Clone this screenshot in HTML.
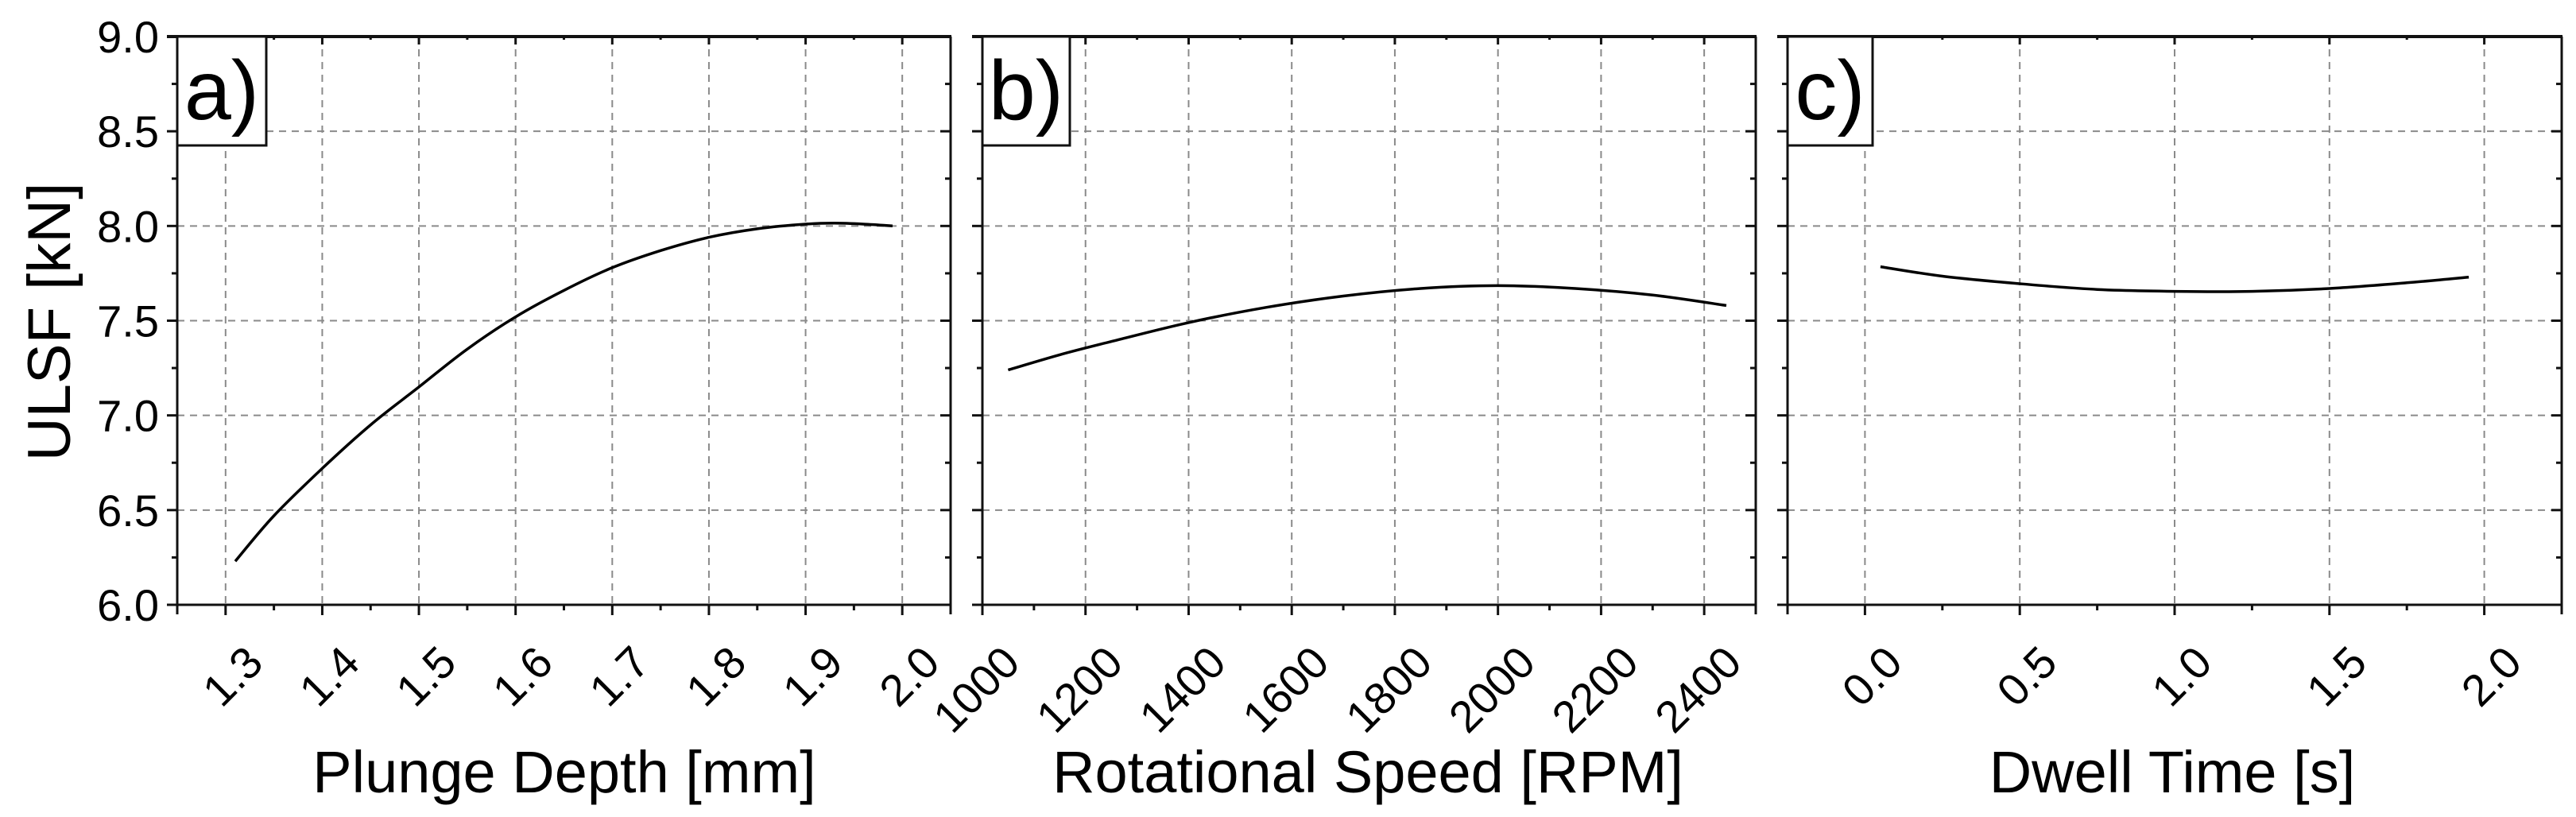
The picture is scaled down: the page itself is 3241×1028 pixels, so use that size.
<!DOCTYPE html>
<html><head><meta charset="utf-8"><style>
html,body{margin:0;padding:0;background:#fff;}
svg{display:block;font-family:"Liberation Sans",Arial,sans-serif;}
</style></head><body>
<svg id="chart" width="3241" height="1028" viewBox="0 0 3241 1028" xmlns="http://www.w3.org/2000/svg"></svg>
<script>
// Data arrays
const yTicks = [6.0, 6.5, 7.0, 7.5, 8.0, 8.5, 9.0];
const aTicks = [1.3, 1.4, 1.5, 1.6, 1.7, 1.8, 1.9, 2.0];
const bTicks = [1000, 1200, 1400, 1600, 1800, 2000, 2200, 2400];
const cTicks = [0.0, 0.5, 1.0, 1.5, 2.0];
const aX = [1.31, 1.35, 1.4, 1.45, 1.5, 1.55, 1.6, 1.65, 1.7, 1.75, 1.8, 1.85, 1.9, 1.93, 1.96, 1.99];
const aY = [6.23, 6.47, 6.72, 6.95, 7.15, 7.35, 7.52, 7.66, 7.78, 7.87, 7.94, 7.985, 8.01, 8.015, 8.01, 8.0];
const bX = [1050, 1150, 1250, 1400, 1550, 1700, 1850, 2000, 2150, 2300, 2443];
const bY = [7.24, 7.32, 7.39, 7.49, 7.57, 7.63, 7.67, 7.685, 7.67, 7.635, 7.58];
const cX = [0.05, 0.25, 0.5, 0.75, 1.0, 1.25, 1.5, 1.75, 1.95];
const cY = [7.785, 7.735, 7.695, 7.665, 7.655, 7.655, 7.67, 7.70, 7.73];

const svg = document.getElementById('chart');
const NS = 'http://www.w3.org/2000/svg';
function mk(tag, attrs, parent){ const e=document.createElementNS(NS,tag); for(const k in attrs) e.setAttribute(k,attrs[k]); (parent||svg).appendChild(e); return e; }

const TOP=46, BOT=761, YMIN=6, YMAX=9;
const yScale = v => BOT - (v-YMIN)/(YMAX-YMIN)*(BOT-TOP);

function smoothPath(pts){
  let d = 'M' + pts[0][0].toFixed(1) + ' ' + pts[0][1].toFixed(1);
  for (let i=0;i<pts.length-1;i++){
    const p0=pts[i-1]||pts[i], p1=pts[i], p2=pts[i+1], p3=pts[i+2]||p2;
    const c1=[p1[0]+(p2[0]-p0[0])/6, p1[1]+(p2[1]-p0[1])/6];
    const c2=[p2[0]-(p3[0]-p1[0])/6, p2[1]-(p3[1]-p1[1])/6];
    d += ` C${c1[0].toFixed(1)} ${c1[1].toFixed(1)} ${c2[0].toFixed(1)} ${c2[1].toFixed(1)} ${p2[0].toFixed(1)} ${p2[1].toFixed(1)}`;
  }
  return d;
}

const panels = [
  {id:'a', L:223, R:1196, xmin:1.25, xmax:2.05, ticks:aTicks, minor:0.05, xs:aX, ys:aY, fmt:v=>v.toFixed(1), title:'Plunge Depth [mm]', tx:710, box:[223,335], label:'a)'},
  {id:'b', L:1236, R:2209, xmin:1000, xmax:2500, ticks:bTicks, minor:100, xs:bX, ys:bY, fmt:v=>String(v), title:'Rotational Speed [RPM]', tx:1721, box:[1236,1346], label:'b)'},
  {id:'c', L:2249, R:3223, xmin:-0.25, xmax:2.25, ticks:cTicks, minor:0.25, xs:cX, ys:cY, fmt:v=>v.toFixed(1), title:'Dwell Time [s]', tx:2733, box:[2249,2356], label:'c)'}
];

panels.forEach((p, pi) => {
  const g = mk('g', {});
  
  
  const xs = v => p.L + (v-p.xmin)/(p.xmax-p.xmin)*(p.R-p.L);
  p.ticks.forEach(t => {
    const l = mk('line', {x1:xs(t), x2:xs(t), y1:TOP, y2:BOT, stroke:'#8a8a8a', 'stroke-width':2, 'stroke-dasharray':'9,7'}, g);
    
    
  });
  yTicks.forEach(t => {
    if (t===YMIN || t===YMAX) return;
    const l = mk('line', {x1:p.L, x2:p.R, y1:yScale(t), y2:yScale(t), stroke:'#8a8a8a', 'stroke-width':2, 'stroke-dasharray':'9,7'}, g);
    
    
  });
  mk('line', {x1:p.L-13, x2:p.R+1, y1:TOP, y2:TOP, stroke:'#111', 'stroke-width':4}, g);
  mk('line', {x1:p.L-13, x2:p.R+1, y1:BOT, y2:BOT, stroke:'#111', 'stroke-width':3}, g);
  mk('line', {x1:p.L, x2:p.L, y1:TOP, y2:BOT+12, stroke:'#111', 'stroke-width':3}, g);
  mk('line', {x1:p.R, x2:p.R, y1:TOP, y2:BOT+12, stroke:'#111', 'stroke-width':3}, g);
  for (let v=YMIN; v<=YMAX+1e-9; v+=0.25) {
    const major = Math.abs(v*2-Math.round(v*2))<1e-6;
    const len = major?13:7;
    mk('line', {x1:p.L-len, x2:p.L, y1:yScale(v), y2:yScale(v), stroke:'#111', 'stroke-width':3}, g);
    mk('line', {x1:p.R-len, x2:p.R, y1:yScale(v), y2:yScale(v), stroke:'#111', 'stroke-width':3}, g);
  }
  for (let v=p.ticks[0]-p.minor*2; v<=p.xmax+1e-9; v+=p.minor) {
    if (v < p.xmin-1e-9) continue;
    const major = p.ticks.some(t=>Math.abs(t-v)<1e-6);
    const len = major?13:7;
    mk('line', {x1:xs(v), x2:xs(v), y1:BOT, y2:BOT+len, stroke:'#111', 'stroke-width':3}, g);
    mk('line', {x1:xs(v), x2:xs(v), y1:TOP, y2:TOP+len-3, stroke:'#111', 'stroke-width':3}, g);
  }
  p.ticks.forEach(t => {
    const x = xs(t)+50, y = 837;
    const tx = mk('text', {x:x, y:y, 'font-size':56, 'text-anchor':'end', transform:`rotate(-45 ${x} ${y})`, fill:'#000'}, g);
    tx.textContent = p.fmt(t);
    
    
  });
  if (pi===0) {
    yTicks.forEach(t => {
      const tx = mk('text', {x:200, y:yScale(t)+20, 'font-size':56, 'text-anchor':'end', fill:'#000'}, g);
      tx.textContent = t.toFixed(1);
      
      
    });
  }
  const pts = p.xs.map((v,i)=>[xs(v), yScale(p.ys[i])]);
  const path = mk('path', {d:smoothPath(pts), fill:'none', stroke:'#000', 'stroke-width':3.5, 'stroke-linejoin':'round'}, g);
  
  
  const box = mk('rect', {x:p.box[0], y:TOP, width:p.box[1]-p.box[0], height:137, fill:'#fff', stroke:'#111', 'stroke-width':3}, g);
  
  
  const lb = mk('text', {x:(p.box[0]+p.box[1])/2, y:150, 'font-size':106, 'text-anchor':'middle', fill:'#000'}, g);
  lb.textContent = p.label;
  
  
  const tt = mk('text', {x:p.tx, y:997, 'font-size':74, 'text-anchor':'middle', fill:'#000'}, g);
  tt.textContent = p.title;
  
  
});
const yt = mk('text', {x:0, y:0, 'font-size':76, 'text-anchor':'middle', fill:'#000', transform:'translate(88 405) rotate(-90)'});
yt.textContent = 'ULSF [kN]';


</script>
</body></html>
